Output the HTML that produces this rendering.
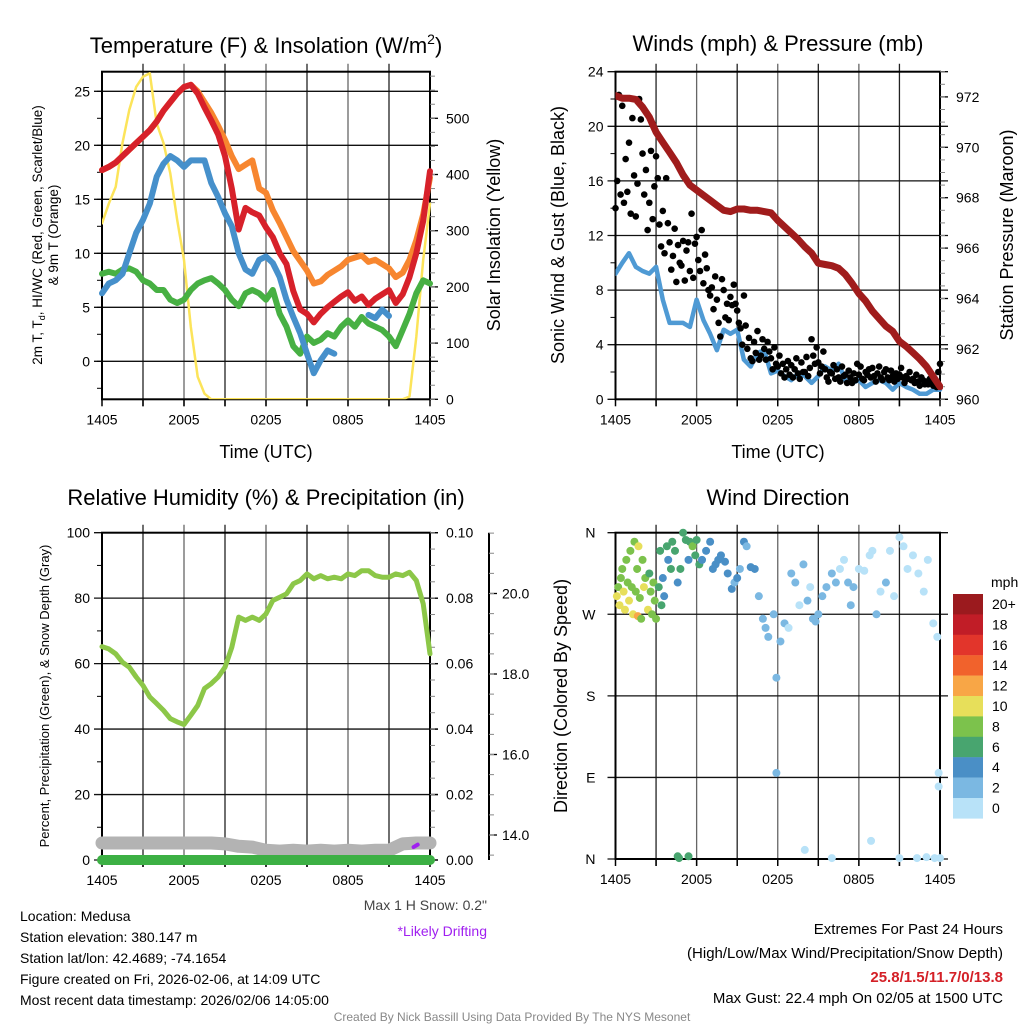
<!DOCTYPE html>
<html><head><meta charset="utf-8"><style>
html,body{margin:0;padding:0;background:#fff;}
svg{display:block;font-family:"Liberation Sans",Arial,sans-serif;}
</style></head><body>
<svg id="c" width="1024" height="1024" viewBox="0 0 1024 1024" xmlns="http://www.w3.org/2000/svg">
<rect width="1024" height="1024" fill="#fff"/>
<g id="marks"></g>
<g font-size="22" text-anchor="middle" fill="#000">
<text x="266" y="53">Temperature (F) &amp; Insolation (W/m<tspan font-size="14" dy="-9">2</tspan><tspan dy="9">)</tspan></text>
<text x="778" y="51">Winds (mph) &amp; Pressure (mb)</text>
<text x="266" y="505">Relative Humidity (%) &amp; Precipitation (in)</text>
<text x="778" y="505">Wind Direction</text>
</g>
<g font-size="18" text-anchor="middle">
<text x="266" y="458">Time (UTC)</text>
<text x="778" y="458">Time (UTC)</text>
<text transform="translate(500,235) rotate(-90)">Solar Insolation (Yellow)</text>
<text transform="translate(564,235) rotate(-90)">Sonic Wind &amp; Gust (Blue, Black)</text>
<text transform="translate(1013,235) rotate(-90)">Station Pressure (Maroon)</text>
<text transform="translate(567,696) rotate(-90)">Direction (Colored By Speed)</text>
</g>
<g font-size="13.5" text-anchor="middle">
<text transform="translate(42,235) rotate(-90)">2m T, T<tspan font-size="9" dy="3">d</tspan><tspan dy="-3">, HI/WC (Red, Green, Scarlet/Blue)</tspan></text>
<text transform="translate(58,235) rotate(-90)">&amp; 9m T (Orange)</text>
<text transform="translate(49,696) rotate(-90)" font-size="13">Percent, Precipitation (Green), &amp; Snow Depth (Gray)</text>
</g>
<g font-size="14" fill="#000">
<text x="20" y="921">Location: Medusa</text>
<text x="20" y="942">Station elevation: 380.147 m</text>
<text x="20" y="963">Station lat/lon: 42.4689; -74.1654</text>
<text x="20" y="984">Figure created on Fri, 2026-02-06, at 14:09 UTC</text>
<text x="20" y="1005">Most recent data timestamp: 2026/02/06 14:05:00</text>
<text x="487" y="910" text-anchor="end" fill="#444">Max 1 H Snow: 0.2"</text>
<text x="487" y="936" text-anchor="end" fill="#a020f0">*Likely Drifting</text>
<text x="1003" y="934" text-anchor="end" font-size="15">Extremes For Past 24 Hours</text>
<text x="1003" y="958" text-anchor="end" font-size="15">(High/Low/Max Wind/Precipitation/Snow Depth)</text>
<text x="1003" y="982" text-anchor="end" font-size="15" font-weight="bold" fill="#d42027">25.8/1.5/11.7/0/13.8</text>
<text x="1003" y="1003" text-anchor="end" font-size="15">Max Gust: 22.4 mph On 02/05 at 1500 UTC</text>
<text x="512" y="1021" text-anchor="middle" font-size="12" fill="#888">Created By Nick Bassill Using Data Provided By The NYS Mesonet</text>
<text x="991" y="587" font-size="14">mph</text>
</g>
</svg>
<script>
// ---------- data (30-min steps, 1405 -> 1405 UTC) ----------
const timeLabels = ["1405","2005","0205","0805","1405"];
const tempT = [17.7,18.0,18.4,19.0,19.6,20.2,20.8,21.4,22.2,23.2,24.0,24.8,25.4,25.6,24.8,23.5,22.3,21.0,19.0,16.0,12.2,14.2,13.8,13.5,12.4,11.5,10.0,9.0,6.5,4.8,4.4,3.6,4.4,5.0,5.5,6.0,6.4,5.6,6.0,5.2,5.8,6.2,6.6,5.4,6.2,7.8,10.0,13.0,17.6];
const temp9m = [17.7,18.0,18.4,19.0,19.6,20.2,20.8,21.4,22.2,23.2,24.0,24.8,25.4,25.6,25.0,24.0,23.0,21.8,20.5,19.0,17.8,18.2,18.6,16.0,15.6,14.0,12.8,11.5,10.2,9.3,8.4,7.2,7.4,8.0,8.4,8.8,9.4,9.6,9.8,9.2,9.4,9.0,8.6,7.8,8.2,9.4,11.2,13.6,17.0];
const dewT = [6.3,7.2,7.5,8.1,10.0,11.9,13.1,14.6,17.1,18.3,19.0,18.6,18.0,18.6,18.6,18.6,16.5,15.2,13.7,12.5,10.0,8.5,8.1,9.4,9.7,9.1,7.8,5.7,4.1,2.6,0.7,-1.1,0.1,1.0,0.7,null,null,null,null,4.3,4.0,4.8,4.2,null,null,null,null,null,null];
const hiwcT = [8.1,8.3,8.1,8.5,8.6,8.3,7.5,7.2,6.6,6.6,5.7,5.4,5.7,6.6,7.2,7.5,7.7,7.2,6.6,5.7,5.1,6.3,6.6,6.3,5.7,6.6,4.4,3.2,1.4,0.7,2.3,1.7,2.0,2.6,2.3,3.2,3.8,3.2,4.1,3.5,3.2,2.9,2.3,1.4,2.9,4.4,6.3,7.5,7.2];
const insol = [313,348,378,456,515,556,574,580,491,456,402,319,248,129,40,10,0,0,0,0,0,0,0,0,0,0,0,0,0,0,0,0,0,0,0,0,0,0,0,0,0,0,0,0,0,5,111,248,348];
const pressure = [972.05,971.95,971.95,971.9,971.6,971.2,970.6,970.2,969.8,969.4,968.9,968.5,968.3,968.1,967.9,967.7,967.5,967.45,967.55,967.55,967.5,967.5,967.45,967.4,967.1,966.85,966.6,966.35,966.05,965.8,965.4,965.35,965.3,965.2,964.95,964.6,964.2,963.9,963.5,963.2,962.9,962.7,962.3,962.1,961.85,961.6,961.3,960.9,960.5];
const wind = [9.2,10.0,10.7,9.7,9.4,9.2,9.7,7.3,5.6,5.6,5.6,5.3,7.3,5.8,4.8,3.6,5.1,4.8,5.1,2.9,2.4,3.4,3.6,1.9,2.1,1.7,1.4,1.9,1.7,1.2,1.7,2.4,2.1,2.6,1.4,1.2,1.4,0.9,1.2,1.4,1.2,0.7,1.2,0.9,0.7,0.4,0.4,0.7,0.7];
const gust = [14,16,22.3,15,21.5,14.4,17.6,15.2, 18.8,13.6,20.6,16.4,13.4,15.8,22,20.5, 18,15,16.8,12.4,14.4,18.2,13.2,15.6, 17.8,16.2,12.8,11.2,13.8,10.7,16.2,12.9, 11.5,9.5,10.5,12.5,8.6,11.3,10,9.8, 11.6,8.7,10.9,11.5,9.4,13.6,8.9,11.4, 11.9,10.2,9.4,12.4,8.5,10.6,9.6,8, 7.6,8.2,6.6,9,7.3,5.6,4.6,8.8, 8,6,7,5.8,7.5,6.9,8.4,7, 6.5,5.6,5.2,4,7.6,5.4,3.7,4.5, 3,2.8,4.2,3.4,5,2.9,3.2,4.4, 3.7,2.9,4.2,3.5,3,2.2,3.8,2.6, 2.4,3.2,1.9,2.6,1.6,2.2,2.8,1.8, 2.5,1.6,2.2,3,1.9,1.5,2.7,2, 2,3.1,1.7,2.3,4.4,3.2,2.6,3.8, 2.7,1.9,2.4,3.5,2.2,1.6,1.3,2, 1.9,2.5,1.5,2.2,1.6,1.3,2.4,1.7, 1.8,1.2,2.1,1.6,1.2,1.9,1.4,2.6, 1.8,2.4,1.5,1.4,2,1.8,2.2,1.6, 2.3,1.7,1.3,1.9,2.4,1.6,1.4,2, 2.2,1.6,1.4,2.1,1.7,1.3,1.9,1.5, 1.8,2.3,1.6,1.2,1.7,1.5,2,1.4, 1.5,1.2,1.8,1.3,1.0,1.6,1.4,1.1, 1.3,1.1,1.5,1.2,1.0,1.4,0.9,2.0, 2.6];
const rh = [65.2,64.5,63,60.4,58.9,55.9,53.3,49.8,47.8,45.7,43.2,42.2,41.4,44.2,47.2,52.4,53.9,55.9,58.9,65,74.2,73.2,74.2,73.2,75.2,79.3,80.3,81.3,84.4,85.4,87.4,85.9,86.9,85.9,86.4,85.9,87.4,86.9,88.4,88.4,86.9,86.4,86.4,87.4,86.9,87.9,85.4,78.3,63];
const precip = [0,0,0,0,0,0,0,0,0,0,0,0,0,0,0,0,0,0,0,0,0,0,0,0,0];
const snowDepth = [13.8,13.8,13.8,13.8,13.8,13.8,13.8,13.8,13.8,13.78,13.72,13.7,13.62,13.6,13.62,13.6,13.62,13.6,13.62,13.6,13.62,13.62,13.78,13.8,13.8];
const driftT = [22.8,23.1];
const driftD = [13.7,13.76];
const dirT = [0.1,0.2,0.3,0.4,0.5,0.6,0.7,0.8,0.9,1.0,1.1,1.2,1.3,1.4,1.5,1.6,1.65,1.7,1.8,1.9,2.0,2.1,2.2,2.4,2.5,2.6,2.7,2.8,2.9,3.0,3.2,3.3,3.4,3.5,3.6,3.8,3.9,4.1,4.2,4.4,4.6,4.8,5.0,5.2,5.4,5.5,5.7,5.9,6.0,6.2,6.4,6.7,7.0,7.2,7.4,7.6,7.8,8.1,8.3,8.6,8.8,9.0,9.2,9.5,9.7,10.0,10.3,10.6,10.9,11.1,11.3,11.7,11.9,11.9,12.2,12.5,12.8,13.0,13.3,13.6,13.9,14.2,14.4,14.6,14.8,15.0,15.3,15.6,16.0,16.3,16.6,16.9,17.2,17.4,17.6,18.0,18.4,18.8,19.0,19.3,19.6,20.0,20.3,20.6,21.0,21.3,21.6,22.0,22.4,22.8,23.1,23.5,23.8,23.9,23.9,4.6,4.7,5.4,14.0,16.0,18.9,21.0,22.3,23.0,23.6,24.0];
const dirDeg = [290,300,280,310,320,295,275,330,305,285,340,300,270,350,295,320,268,345,288,265,330,300,310,275,315,295,270,305,285,265,300,340,280,310,290,345,330,320,350,340,305,320,360,352,330,350,345,335,352,325,330,340,350,320,325,330,335,328,315,298,305,310,320,350,345,322,320,290,265,255,245,270,200,95,240,260,255,315,305,280,325,285,300,265,262,270,290,300,315,305,320,330,305,280,300,320,318,335,340,270,295,305,340,290,355,345,320,335,315,295,330,260,245,95,80,3,1,3,10,1,20,1,1,2,1,1];
const dirSpd = [10,9,10,8,8,10,11,8,9,10,8,8,10,9,8,8,12,10,8,8,9,10,8,10,7,8,8,9,8,8,7,7,6,5,4,6,5,6,7,6,5,6,6,6,5,7,8,6,6,6,5,4,5,4,4,4,5,4,4,4,3,4,3,4,3,4,4,3,3,3,2,2,3,3,3,2,1,2,2,1,2,2,1,2,3,3,2,3,3,2,1,1,2,3,2,1,1,1,1,2,1,2,1,1,1,1,1,1,1,1,1,1,1,1,1,6,6,6,0,0,0,0,0,0,0,0];
const speedLabels = ["20+","18","16","14","12","10","8","6","4","2","0"];
const speedColors = ["#9b1a1e","#c11d27","#e2352b","#f1622c","#f8a646","#e7df5a","#7cc24c","#48a56f","#4a8fc6","#7bb8e2","#b8e2f8"];
const tempTicks = [0,5,10,15,20,25];
const insolTicks = [0,100,200,300,400,500];
const windTicks = [0,4,8,12,16,20,24];
const presTicks = [960,962,964,966,968,970,972];
const rhTicks = [0,20,40,60,80,100];
const precipTicks = ["0.00","0.02","0.04","0.06","0.08","0.10"];
const snowTicks = [14,16,18,20];
const dirTicks = [0,90,180,270,360];
const dirLabels = ["N","E","S","W","N"];

// ---------- drawing ----------
const NS="http://www.w3.org/2000/svg";
const G=document.getElementById('marks');
function mk(tag,attrs,parent){const e=document.createElementNS(NS,tag);for(const k in attrs)e.setAttribute(k,attrs[k]);(parent||G).appendChild(e);return e;}
const P1={x0:102,x1:430,yT:71.7,yB:399.3};
const P2={x0:615.5,x1:940,yT:71.7,yB:399.3};
const P3={x0:102,x1:430,yT:532.7,yB:860};
const P4={x0:615.5,x1:940,yT:532.7,yB:859};
const xs=(P,h)=>P.x0+(P.x1-P.x0)*h/24;
const yTemp=v=>361.3-v*10.8, yIns=v=>399.3-v*0.562;
const yWind=v=>399.3-v*13.65, yPres=v=>399.3-(v-960)*25.2;
const yRH=v=>860-v*3.273, yPrecip=v=>860-v*3273, ySnow=v=>835-(v-14)*40.25;
const yDir=v=>859-v*0.9064;

function frame(P,name,hTicks,yf){
  const g=mk('g',{});
  
  
  for(let i=1;i<8;i++){const x=xs(P,i*3);mk('line',{x1:x,x2:x,y1:P.yT-8,y2:P.yB+7,stroke:i%2?'#222':'#666','stroke-width':1.3},g);}
  hTicks.forEach(v=>{const y=yf(v);mk('line',{x1:P.x0-8,x2:P.x1+8,y1:y,y2:y,stroke:'#111','stroke-width':1.3},g);});
  mk('rect',{x:P.x0,y:P.yT,width:P.x1-P.x0,height:P.yB-P.yT,fill:'none',stroke:'#000','stroke-width':2},g);
  for(let i=0;i<=8;i++){const x=xs(P,i*3);mk('line',{x1:x,x2:x,y1:P.yB,y2:P.yB+7,stroke:'#000','stroke-width':1.5},g);}
  timeLabels.forEach((t,i)=>{const tx=mk('text',{x:xs(P,i*6),y:P.yB+25,'font-size':14,'text-anchor':'middle'},g);tx.textContent=t;});
}
function leftLabels(P,vals,labels,yf,name){
  vals.forEach((v,i)=>{const t=mk('text',{x:P.x0-12,y:yf(v)+5,'font-size':14,'text-anchor':'end'});
  
  
  t.textContent=labels?labels[i]:String(v);});
}
function rightAxis(P,vals,labels,yf,minorStep,name,xoff){
  const x=P.x1+(xoff||0);
  vals.forEach((v,i)=>{const y=yf(v);mk('line',{x1:x,x2:x+8,y1:y,y2:y,stroke:'#000','stroke-width':1.3});
    const t=mk('text',{x:x+16,y:y+5,'font-size':14});
    
    
    t.textContent=labels?labels[i]:String(v);});
  if(minorStep){const a=vals[0]-minorStep*4,b=vals[vals.length-1]+minorStep*4;
    for(let v=a;v<=b+1e-9;v+=minorStep){const y=yf(v);if(y<P.yT-1||y>P.yB+1)continue;mk('line',{x1:x,x2:x+5,y1:y,y2:y,stroke:'#888','stroke-width':1});}}
}
function pathOf(P,vals,yf,step){
  let d='',pen=false;
  vals.forEach((v,i)=>{if(v===null){pen=false;return;}const x=xs(P,i*step),y=yf(v);d+=(pen?'L':'M')+x.toFixed(1)+','+y.toFixed(1);pen=true;});
  return d;
}
function series(P,vals,yf,step,color,w,name,clip){
  const p=mk('path',{d:pathOf(P,vals,yf,step),fill:'none',stroke:color,'stroke-width':w,'stroke-linejoin':'round','stroke-linecap':'round'});
  if(clip)p.setAttribute('clip-path','url(#'+clip+')');
  
  
  return p;
}
// clips
const defs=mk('defs',{});
[['c1',P1],['c2',P2]].forEach(([id,P])=>{const c=mk('clipPath',{id:id},defs);mk('rect',{x:P.x0,y:P.yT-4,width:P.x1-P.x0+3,height:P.yB-P.yT+4},c);});

// Panel 1
frame(P1,'temperature-panel',tempTicks,yTemp);
for(let v=-2.5;v<=26;v+=2.5){mk('line',{x1:P1.x0-5,x2:P1.x0,y1:yTemp(v),y2:yTemp(v),stroke:'#000','stroke-width':1});}
leftLabels(P1,tempTicks,null,yTemp,'temperature-tick-label');
rightAxis(P1,insolTicks,null,yIns,25,'insolation-tick-label');
series(P1,insol,yIns,0.5,'#fce45a',2.5,'insolation-line','c1');
series(P1,hiwcT,yTemp,0.5,'#47b043',6,'heat-index-wind-chill-line');
series(P1,temp9m,yTemp,0.5,'#f7862f',6,'temperature-9m-line');
series(P1,dewT,yTemp,0.5,'#4690cb',6,'dewpoint-line');
series(P1,tempT,yTemp,0.5,'#d7212a',6,'temperature-2m-line');

// Panel 2
frame(P2,'winds-panel',windTicks,yWind);
for(let v=2;v<=24;v+=4){mk('line',{x1:P2.x0-5,x2:P2.x0,y1:yWind(v),y2:yWind(v),stroke:'#000','stroke-width':1});}
leftLabels(P2,windTicks,null,yWind,'wind-tick-label');
rightAxis(P2,presTicks,null,yPres,0.5,'pressure-tick-label');
series(P2,wind,yWind,0.5,'#4f9ad4',4.5,'sonic-wind-line','c2');
gust.forEach((v,i)=>{const c=mk('circle',{cx:xs(P2,i*0.125),cy:yWind(v),r:3.3,fill:'#000'});
  
  });
series(P2,pressure,yPres,0.5,'#a01c1c',7,'pressure-line','c2');

// Panel 3
frame(P3,'humidity-panel',rhTicks,yRH);
for(let v=10;v<=100;v+=20){mk('line',{x1:P3.x0-5,x2:P3.x0,y1:yRH(v),y2:yRH(v),stroke:'#000','stroke-width':1});}
leftLabels(P3,rhTicks,null,yRH,'humidity-tick-label');
rightAxis(P3,[0,0.02,0.04,0.06,0.08,0.1],precipTicks,yPrecip,0.005,'precip-tick-label');
mk('line',{x1:489,x2:489,y1:532.7,y2:860,stroke:'#000','stroke-width':2});
snowTicks.forEach(v=>{const y=ySnow(v);mk('line',{x1:489,x2:497,y1:y,y2:y,stroke:'#000','stroke-width':1.3});
  const t=mk('text',{x:502,y:y+5,'font-size':14});
  
  
  t.textContent=v.toFixed(1);});
for(let v=13.5;v<=21.5;v+=0.5){const y=ySnow(v);if(y<533||y>860)continue;mk('line',{x1:489,x2:494,y1:y,y2:y,stroke:'#888','stroke-width':1});}
series(P3,snowDepth,ySnow,1,'#b3b3b3',13,'snow-depth-line');
series(P3,precip,yPrecip,1,'#3cb044',10,'precipitation-line');
{const d='M'+xs(P3,driftT[0])+','+ySnow(driftD[0])+'L'+xs(P3,driftT[1])+','+ySnow(driftD[1]);
 const p=mk('path',{d:d,stroke:'#a020f0','stroke-width':4,'stroke-linecap':'round'});
 
 }
series(P3,rh,yRH,0.5,'#8cc748',5,'relative-humidity-line');

// Panel 4
frame(P4,'wind-direction-panel',dirTicks,yDir);
dirTicks.forEach((v,i)=>{const t=mk('text',{x:P4.x0-20,y:yDir(v)+5,'font-size':14,'text-anchor':'end'});
  
  
  t.textContent=dirLabels[i];});
function speedColor(s){let b=Math.min(10,Math.floor(s/2));return speedColors[10-b];}
dirT.forEach((t,i)=>{const c=mk('circle',{cx:xs(P4,t),cy:yDir(dirDeg[i]),r:4,fill:speedColor(dirSpd[i])});
  
  });
// colorbar
speedLabels.forEach((l,i)=>{const y=594+i*20.4;
  const r=mk('rect',{x:953,y:y,width:30,height:20.6,fill:speedColors[i]});
  
  
  const t=mk('text',{x:992,y:y+15,'font-size':14});
  
  
  t.textContent=l;});
</script>
</body></html>
